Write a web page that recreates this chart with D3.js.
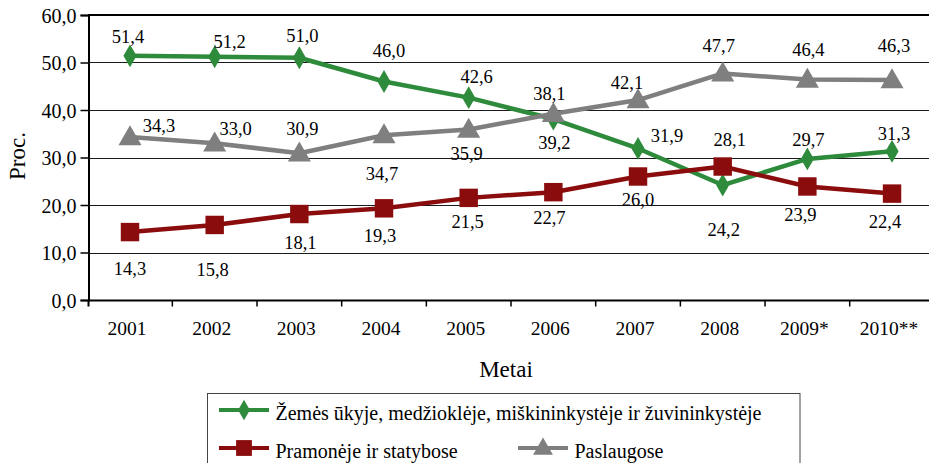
<!DOCTYPE html>
<html>
<head>
<meta charset="utf-8">
<script src="https://cdn.jsdelivr.net/npm/d3@7"></script>
</head>
<body style="margin:0;background:#fff">
<svg id="chart" width="929" height="463"></svg>
<script>
// ---- data ----
const categories = ["2001", "2002", "2003", "2004", "2005", "2006", "2007", "2008", "2009*", "2010**"];
const agriculture = [51.4, 51.2, 51.0, 46.0, 42.6, 38.1, 31.9, 24.2, 29.7, 31.3];
const industry    = [14.3, 15.8, 18.1, 19.3, 21.5, 22.7, 26.0, 28.1, 23.9, 22.4];
const services    = [34.3, 33.0, 30.9, 34.7, 35.9, 39.2, 42.1, 47.7, 46.4, 46.3];
const yTicks = [0, 10, 20, 30, 40, 50, 60];
const seriesNames = [
  "Žemės ūkyje, medžioklėje, miškininkystėje ir žuvininkystėje",
  "Pramonėje ir statybose",
  "Paslaugose"
];
const yTitle = "Proc.";
const xTitle = "Metai";

// ---- label placement (offsets of label centre from the point) ----
const agricultureLabelOffsets = [[-2,-19],[15,-15],[3,-22],[5,-31],[8,-21],[-4,-26],[29,-13],[1,44],[1,-19],[2,-18]];
const industryLabelOffsets    = [[0,36],[-2,45],[1,28],[-4,27],[-1,24],[-4,25],[0,23],[7,-27],[-7,28],[-7,28]];
const servicesLabelOffsets    = [[29,-12],[21,-15],[3,-25],[-2,38],[-2,24],[1,29],[-11,-18],[-4,-28],[1,-30],[2,-35]];

// ---- styles ----
const FONT = "Liberation Serif";
const colors = ["#2e8b3c", "#8b0c0c", "#7f7f7f"];
const symbols = [d3.symbolDiamond, d3.symbolSquare, d3.symbolTriangle];
const symbolSizes = [150, 340, 230];
const legendSymbolSizes = [120, 250, 170];

const svg = d3.select("#chart");
const fmt = v => d3.format(".1f")(v).replace(".", ",");

const x = d3.scaleBand().domain(categories).range([87.67, 934.37]).padding(0);
const y = d3.scaleLinear().domain([0, 60]).range([300, 15]);
const cx = c => x(c) + x.bandwidth() / 2;

function txt(sel, size) {
  return sel.attr("font-family", FONT).attr("font-size", size).attr("fill", "#000");
}

// gridlines
svg.append("g").selectAll("line")
  .data(yTicks.filter(t => t > 0 && t < 60))
  .join("line")
  .attr("x1", 88).attr("x2", 929)
  .attr("y1", d => Math.round(y(d)) + 0.5).attr("y2", d => Math.round(y(d)) + 0.5)
  .attr("stroke", "#1a1a1a").attr("stroke-width", 1);

// top border
svg.append("line")
  .attr("x1", 88).attr("x2", 929).attr("y1", y(60)).attr("y2", y(60))
  .attr("stroke", "#000").attr("stroke-width", 2);

// y axis
const yAxis = d3.axisLeft(y).tickValues(yTicks).tickSize(8).tickPadding(4).tickFormat(fmt);
const gy = svg.append("g").attr("transform", "translate(88.5,0)").call(yAxis);
gy.attr("font-family", FONT).attr("font-size", 20);
gy.select(".domain").attr("stroke", "#000").attr("stroke-width", 2);
gy.selectAll(".tick line").attr("stroke", "#000").attr("stroke-width", 1.5);
txt(gy.selectAll(".tick text"), 20).attr("dy", "0.36em");

// x axis (band axis; labels placed by the scale)
const xAxis = d3.axisBottom(x).tickSize(0).tickPadding(0);
const gx = svg.append("g").attr("transform", "translate(0,300)").call(xAxis);
gx.attr("font-family", FONT).attr("font-size", 19.5);
gx.select(".domain").remove();
txt(gx.selectAll(".tick text"), 19.5).attr("dy", null).attr("y", 35).attr("x", -3);
svg.append("line").attr("x1", 88).attr("x2", 929).attr("y1", 300.5).attr("y2", 300.5)
  .attr("stroke", "#000").attr("stroke-width", 2);
svg.append("g").selectAll("line")
  .data(categories.slice(1))
  .join("line")
  .attr("x1", d => x(d)).attr("x2", d => x(d))
  .attr("y1", 300).attr("y2", 306.5)
  .attr("stroke", "#000").attr("stroke-width", 1.5);
svg.append("line").attr("x1", 88.5).attr("x2", 88.5).attr("y1", 300).attr("y2", 306.5)
  .attr("stroke", "#000").attr("stroke-width", 2);

// axis titles
txt(svg.append("text"), 23).attr("transform", "translate(25,156) rotate(-90)")
  .attr("text-anchor", "middle").text(yTitle);
txt(svg.append("text"), 23).attr("x", 506).attr("y", 376.5)
  .attr("text-anchor", "middle").text(xTitle);

// series
const series = [
  { name: seriesNames[0], values: agriculture, offsets: agricultureLabelOffsets },
  { name: seriesNames[1], values: industry, offsets: industryLabelOffsets },
  { name: seriesNames[2], values: services, offsets: servicesLabelOffsets }
];

const line = d3.line().x(d => cx(d.c)).y(d => y(d.v));

series.forEach((s, si) => {
  const pts = s.values.map((v, i) => ({ c: categories[i], v }));
  svg.append("path").datum(pts)
    .attr("d", line).attr("fill", "none")
    .attr("stroke", colors[si]).attr("stroke-width", 4.5).attr("stroke-linejoin", "round");
  svg.append("g").selectAll("path")
    .data(pts).join("path")
    .attr("transform", d => `translate(${cx(d.c)},${y(d.v) + (si === 2 ? 1.5 : 0)})`)
    .attr("d", d3.symbol().type(symbols[si]).size(symbolSizes[si]))
    .attr("fill", colors[si]);
});

// data labels
series.forEach((s, si) => {
  txt(svg.append("g").selectAll("text")
    .data(s.values.map((v, i) => ({ c: categories[i], v, o: s.offsets[i] })))
    .join("text"), 18.5)
    .attr("x", d => cx(d.c) + d.o[0])
    .attr("y", d => y(d.v) + d.o[1] + 6.5)
    .attr("text-anchor", "middle")
    .text(d => fmt(d.v));
});

// legend
const lg = svg.append("g");
lg.append("rect").attr("x", 207.5).attr("y", 393.5).attr("width", 592.5).attr("height", 90)
  .attr("fill", "#fff").attr("stroke", "#444").attr("stroke-width", 1);
const legendItems = [
  { i: 0, x: 219, y: 410 },
  { i: 1, x: 219, y: 448 },
  { i: 2, x: 518, y: 448 }
];
legendItems.forEach(it => {
  const g = lg.append("g").attr("transform", `translate(${it.x},${it.y})`);
  g.append("line").attr("x1", 0).attr("x2", 50).attr("y1", 0).attr("y2", 0)
    .attr("stroke", colors[it.i]).attr("stroke-width", 4);
  g.append("path").attr("transform", `translate(25,${it.i === 2 ? 1 : 0})`)
    .attr("d", d3.symbol().type(symbols[it.i]).size(legendSymbolSizes[it.i]))
    .attr("fill", colors[it.i]);
  txt(g.append("text"), 20).attr("x", 56.5).attr("y", 10).text(seriesNames[it.i]);
});
</script>
</body>
</html>
